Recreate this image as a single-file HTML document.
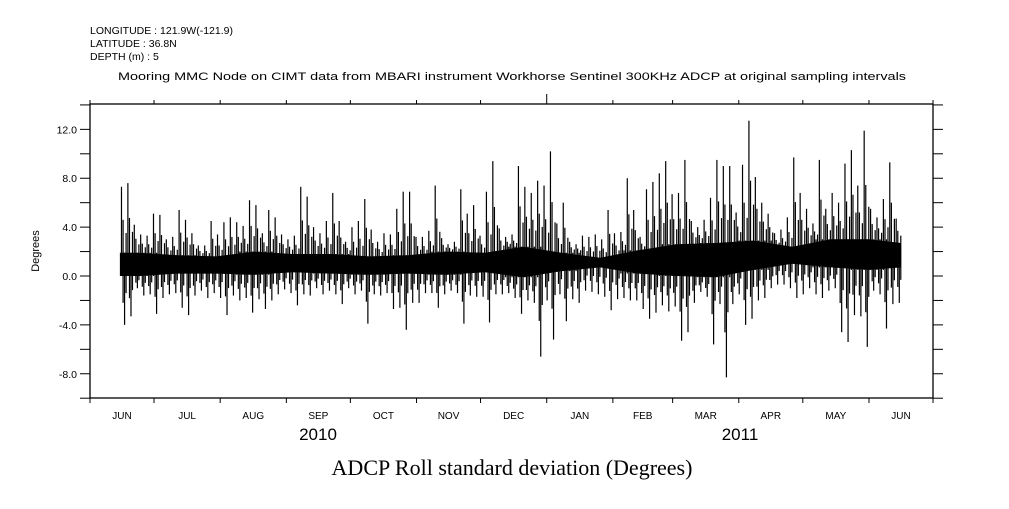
<!DOCTYPE html>
<html><head><meta charset="utf-8"><style>
body{margin:0;background:#fff;}
svg text{font-family:"Liberation Sans",sans-serif;fill:#000;}
</style></head><body>
<svg id="chart" width="1009" height="504" viewBox="0 0 1009 504" xmlns="http://www.w3.org/2000/svg">
<g font-size="10.5">
<text x="90" y="34">LONGITUDE : 121.9W(-121.9)</text>
<text x="90" y="47">LATITUDE : 36.8N</text>
<text x="90" y="60">DEPTH (m) : 5</text>
<text x="118" y="80" textLength="788" lengthAdjust="spacingAndGlyphs" font-size="11">Mooring MMC Node on CIMT data from MBARI instrument Workhorse Sentinel 300KHz ADCP at original sampling intervals</text>
</g>
<g id="axes"></g>
<g id="series"></g>
<text transform="translate(39,251) rotate(-90)" text-anchor="middle" font-size="11">Degrees</text>
<text x="318" y="440" text-anchor="middle" font-size="17">2010</text>
<text x="740" y="440" text-anchor="middle" font-size="17">2011</text>
<text x="512" y="475" text-anchor="middle" font-size="22" style='font-family:"Liberation Serif",serif'>ADCP Roll standard deviation (Degrees)</text>
</svg>
<script>
const binStartDay = 14;
const binDays = 3;
const binHi = [7.3,7.6,4.2,3.4,3.3,5.1,5.0,3.0,3.2,5.4,4.6,3.5,2.5,2.5,4.5,3.4,4.4,4.8,4.4,4.1,6.2,5.8,3.5,5.4,4.8,3.4,3.0,3.3,7.3,6.5,4.0,3.5,4.5,
6.8,4.5,2.8,4.0,4.5,6.3,3.8,2.8,3.5,3.4,5.5,6.9,6.9,3.2,3.2,3.7,7.4,3.1,2.6,2.8,7.1,5.1,5.8,3.3,6.9,9.4,3.9,3.2,3.4,9.0,7.3,6.8,7.8,7.4,10.2,
4.3,6.0,2.8,2.6,3.3,3.2,3.4,3.0,5.4,3.5,3.6,8.0,5.4,3.2,7.1,7.7,8.4,9.4,6.7,6.8,9.5,4.5,4.0,4.6,6.4,9.5,9.0,
9.0,5.2,9.1,12.7,8.1,6.0,5.1,3.5,3.8,4.8,9.7,6.8,5.5,4.3,9.5,5.5,6.8,6.0,9.2,10.3,7.4,11.9,5.5,4.8,6.3,9.3,4.7];
const binLo = [-4.0,-3.3,-1.0,-1.6,-1.5,-3.1,-1.8,-1.5,-1.4,-2.6,-3.2,-1.6,-1.2,-1.8,-1.4,-1.8,-3.2,-1.6,-2.0,-1.8,-3.0,-1.9,-2.7,-2.0,-1.5,-1.1,-1.4,-2.4,-1.5,-1.6,-1.0,-1.5,-1.2,
-1.5,-2.3,-1.0,-1.5,-1.2,-3.9,-1.5,-1.6,-1.4,-2.7,-2.6,-4.4,-2.2,-2.2,-1.4,-1.4,-2.6,-1.5,-1.2,-1.4,-3.9,-1.6,-1.7,-1.7,-3.8,-1.5,-1.5,-1.4,-1.8,-3.1,-2.0,-2.2,-6.6,-2.0,-5.2,
-1.5,-3.7,-1.9,-2.2,-1.2,-1.3,-1.5,-1.7,-2.8,-1.9,-1.8,-2.0,-2.0,-2.7,-3.5,-3.0,-2.4,-2.9,-2.5,-5.3,-4.6,-2.2,-1.3,-1.7,-5.6,-2.3,-8.3,
-2.3,-1.5,-4.0,-3.5,-2.0,-1.8,-1.0,-0.7,-0.7,-1.0,-1.8,-1.5,-1.0,-1.5,-1.8,-1.2,-1.0,-4.6,-5.4,-3.2,-3.3,-5.8,-1.2,-1.5,-4.3,-2.3,-2.2];
const coreLo = [0.0,0.2,0.2,0.1,0.3,0.2,0.1,0.2,0.1,0.3,-0.1,0.4,0.7,0.2,0.0,-0.1,0.5,1.0,0.7,0.5,0.7];
const coreHi = [1.9,1.7,1.6,2.0,1.8,1.8,1.6,1.7,2.0,1.9,2.4,1.9,1.5,2.1,2.6,2.7,2.9,2.4,3.0,3.0,2.7];
const monthDays = [0,30,61,92,122,153,183,214,245,273,304,334,365,395];
const monthLabels = ["JUN","JUL","AUG","SEP","OCT","NOV","DEC","JAN","FEB","MAR","APR","MAY","JUN"];
const yTicks = [-10,-8,-6,-4,-2,0,2,4,6,8,10,12,14];
const yLabels = ["-8.0","-4.0","0.0","4.0","8.0","12.0"];
const yLabelVals = [-8,-4,0,4,8,12];

const NS="http://www.w3.org/2000/svg";
const L=90,R=933,T=104,B=398;
const xS=d=>L+d*(R-L)/395;
const yS=v=>276-v*12.22;
function mk(tag,attrs,parent){const e=document.createElementNS(NS,tag);for(const k in attrs)e.setAttribute(k,attrs[k]);parent.appendChild(e);return e;}
const ax=document.getElementById('axes');
const frame=mk('rect',{x:L,y:T,width:R-L,height:B-T,fill:'none',stroke:'#000','stroke-width':1.3},ax);


yTicks.forEach(v=>{
  if(yS(v)<T-0.5)return;
  const t1=mk('line',{x1:80,x2:L,y1:yS(v),y2:yS(v),stroke:'#000','stroke-width':1},ax);
  
  
  const t2=mk('line',{x1:R,x2:943,y1:yS(v),y2:yS(v),stroke:'#000','stroke-width':1},ax);
  
  
});
yLabelVals.forEach((v,i)=>{
  const t=mk('text',{x:77,y:yS(v)+4,'text-anchor':'end','font-size':10.5},ax);
  t.textContent=yLabels[i];
  
  
});
monthDays.forEach((d,i)=>{
  const x=xS(d);
  const b=mk('line',{x1:x,x2:x,y1:B,y2:B+5,stroke:'#000','stroke-width':1},ax);
  
  
  const t=mk('line',{x1:x,x2:x,y1:T,y2:d===214?T-10:T-4,stroke:'#000','stroke-width':1},ax);
  
  
  if(i<monthLabels.length){
    const lb=mk('text',{x:(xS(d)+xS(monthDays[i+1]))/2,y:419,'text-anchor':'middle','font-size':10},ax);
    lb.textContent=monthLabels[i];
    
    
  }
});
const sg=document.getElementById('series');
// core band: smooth polygon through group centres
const nG=coreHi.length;
const gx=g=>xS(binStartDay+Math.min(g*6+3,binHi.length)*binDays);
const x0s=xS(binStartDay), x1s=xS(binStartDay+binHi.length*binDays);
let d='M'+x0s+','+yS(coreHi[0]);
for(let g=0;g<nG;g++) d+=' L'+gx(g).toFixed(1)+','+yS(coreHi[g]).toFixed(1);
d+=' L'+x1s+','+yS(coreHi[nG-1])+' L'+x1s+','+yS(coreLo[nG-1]);
for(let g=nG-1;g>=0;g--) d+=' L'+gx(g).toFixed(1)+','+yS(coreLo[g]).toFixed(1);
d+=' L'+x0s+','+yS(coreLo[0])+'Z';
const band=mk('path',{d:d,fill:'#000'},sg);


binHi.forEach((h,i)=>{
  const g=Math.floor(i/6);
  const lo=binLo[i];
  const xc=xS(binStartDay+i*binDays+1.5);
  const a=mk('line',{x1:xc-1.6,x2:xc-1.6,y1:yS(h),y2:yS(coreLo[g]),stroke:'#000','stroke-width':1.2},sg);
  
  
  const b=mk('line',{x1:xc+1.5,x2:xc+1.5,y1:yS(coreHi[g]),y2:yS(lo),stroke:'#000','stroke-width':1.2},sg);
  
  
  const mh=coreHi[g]+(h-coreHi[g])*0.5, ml=coreLo[g]+(lo-coreLo[g])*0.55;
  const c=mk('line',{x1:xc,x2:xc,y1:yS(mh),y2:yS(ml),stroke:'#000','stroke-width':1.2},sg);
  
  
  const mh2=coreHi[g]+(h-coreHi[g])*0.3, ml2=coreLo[g]+(lo-coreLo[g])*0.35;
  const e=mk('line',{x1:xc+3,x2:xc+3,y1:yS(mh2),y2:yS(ml2),stroke:'#000','stroke-width':1.2},sg);
  
  
});
</script>
</body></html>
